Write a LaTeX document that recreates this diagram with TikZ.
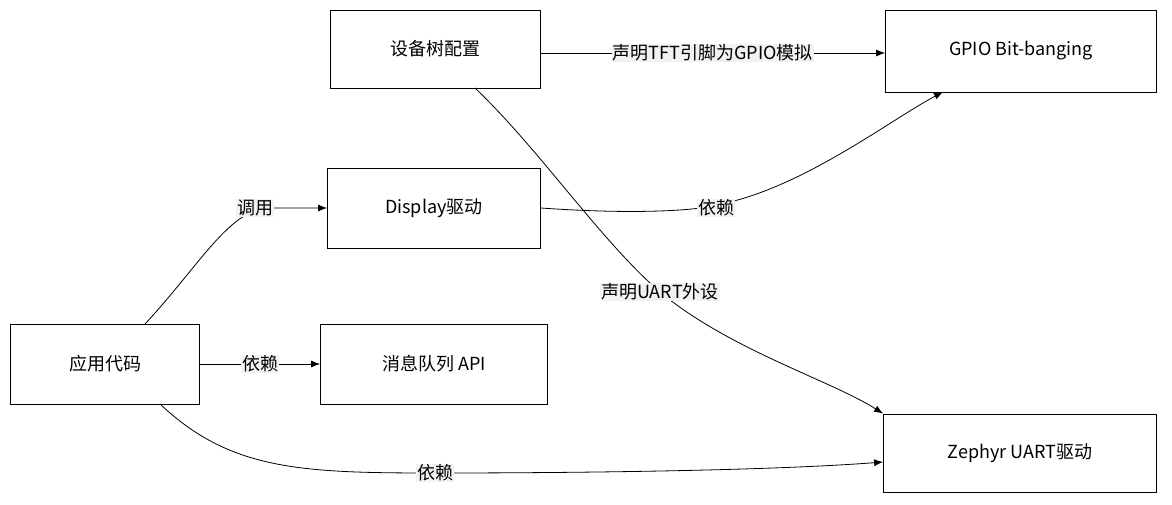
\documentclass[tikz,border=0pt]{standalone}
\usepackage{fontspec}
\setmainfont{Noto Sans CJK SC}
\usetikzlibrary{arrows.meta}
\begin{document}
\begin{tikzpicture}[x=1pt,y=-1pt,
  box/.style={draw,line width=0.8pt,minimum height=78pt,inner sep=0pt,font=\fontsize{18}{21}\selectfont},
  lbl/.style={fill=gray!10,inner sep=1pt,font=\fontsize{18}{21}\selectfont},
  arr/.style={-{Latex[length=9pt,width=7pt]},line width=0.8pt}]
\useasboundingbox (0,0) rectangle (1172,505);
\node[box,minimum width=210pt] (dt) at (435,49) {设备树配置};
\node[box,minimum width=271pt,minimum height=82pt] (gpio) at (1021,51) {GPIO Bit-banging};
\node[box,minimum width=213pt,minimum height=80pt] (disp) at (434,208) {Display驱动};
\node[box,minimum width=189pt,minimum height=80pt] (app) at (105,364) {应用代码};
\node[box,minimum width=227pt,minimum height=80pt] (mq) at (434,364) {消息队列 API};
\node[box,minimum width=273pt] (uart) at (1020,453) {Zephyr UART驱动};
\coordinate (c1) at (660,292);
\coordinate (c2) at (716,205);
\coordinate (c3) at (435,473);
\draw[arr] (dt.east |- 0,53) -- node[lbl]{声明TFT引脚为GPIO模拟} (gpio.west |- 0,53);
\draw[arr] (475,88) .. controls (540,150) and (600,240) .. (c1) .. controls (730,350) and (830,380) .. (uart.north west);
\node[lbl] at (c1) {声明UART外设};
\draw[arr] (disp.east) .. controls (640,215) and (700,210) .. (c2) .. controls (800,190) and (890,120) .. (943,92);
\node[lbl] at (716,208) {依赖};
\draw[arr] (145,324) .. controls (200,265) and (230,208) .. (270,208) -- (disp.west);
\node[lbl] at (255,208) {调用};
\draw[arr] (app.east) -- node[lbl]{依赖} (mq.west);
\draw[arr] (160,404) .. controls (230,470) and (300,473) .. (c3) .. controls (600,473) and (780,470) .. (uart.west |- 0,462);
\node[lbl] at (c3) {依赖};
\end{tikzpicture}
\end{document}
